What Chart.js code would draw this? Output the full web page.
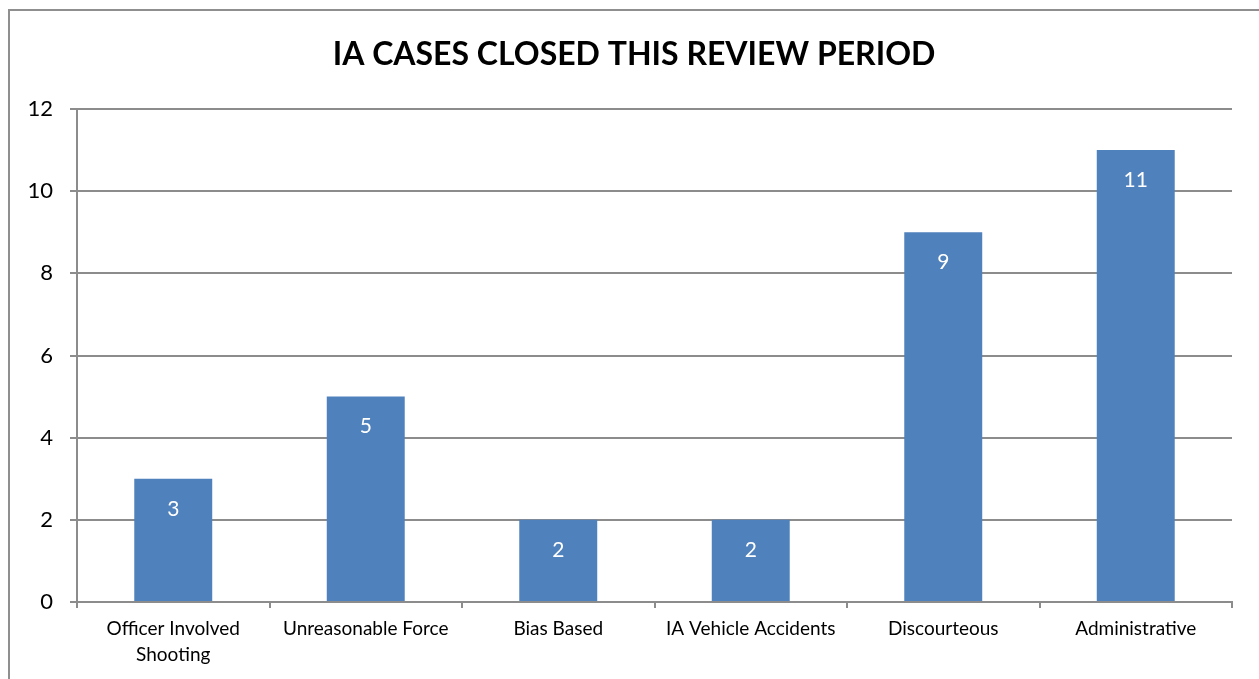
<!DOCTYPE html>
<html>
<head>
<meta charset="utf-8">
<script src="https://cdn.jsdelivr.net/npm/chart.js@4"></script>
<style>
  html, body { margin: 0; padding: 0; background: #fff; }
  #wrap { position: relative; width: 1259px; height: 679px; }
</style>
</head>
<body>
<div id="wrap"><canvas id="chart" width="1259" height="679"></canvas></div>
<script>
const categories = [["Officer Involved", "Shooting"], "Unreasonable Force", "Bias Based", "IA Vehicle Accidents", "Discourteous", "Administrative"];
const caseCounts = [3, 5, 2, 2, 9, 11];
const yTicks = [0, 2, 4, 6, 8, 10, 12];
const chartTitle = "IA CASES CLOSED THIS REVIEW PERIOD";

const FONT = "Lato, 'Open Sans', sans-serif";
const GRID = "#8c8c8c";

// outer frame of the chart object (left and top edges only visible) + title
const framePlugin = {
  id: "frame",
  beforeDraw(chart) {
    const ctx = chart.ctx;
    ctx.save();
    ctx.strokeStyle = "#8f8f8f";
    ctx.lineWidth = 2;
    ctx.beginPath();
    ctx.moveTo(9, 679);
    ctx.lineTo(9, 10);
    ctx.lineTo(1259, 10);
    ctx.stroke();
    ctx.fillStyle = "#000";
    ctx.font = "bold 32px " + FONT;
    ctx.textAlign = "center";
    ctx.textBaseline = "middle";
    ctx.fillText(chartTitle, 634, 55);
    ctx.restore();
  }
};

// value labels inside top of each bar
const valueLabels = {
  id: "valueLabels",
  afterDatasetsDraw(chart) {
    const ctx = chart.ctx;
    const meta = chart.getDatasetMeta(0);
    ctx.save();
    ctx.fillStyle = "#ffffff";
    ctx.font = "21px " + FONT;
    ctx.textAlign = "center";
    ctx.textBaseline = "middle";
    meta.data.forEach((bar, i) => {
      ctx.fillText(String(caseCounts[i]), bar.x, bar.y + 30);
    });
    ctx.restore();
  }
};

new Chart(document.getElementById("chart"), {
  type: "bar",
  data: {
    labels: categories,
    datasets: [{
      data: caseCounts,
      backgroundColor: "#4F81BD",
      borderWidth: 0,
      categoryPercentage: 1,
      barPercentage: 0.405
    }]
  },
  options: {
    responsive: false,
    animation: false,
    layout: { padding: { left: 0, right: 27, top: 109, bottom: 0 } },
    plugins: {
      legend: { display: false },
      tooltip: { enabled: false },
      title: { display: false }
    },
    scales: {
      x: {
        grid: { display: true, drawOnChartArea: false, drawTicks: true, tickLength: 6, color: GRID, lineWidth: 2, offset: true },
        border: { color: GRID, width: 2 },
        ticks: { color: "#000", font: { family: FONT, size: 19, lineHeight: 1.37 }, padding: 8, maxRotation: 0, autoSkip: false },
        afterFit(scale) { scale.height = 77; }
      },
      y: {
        min: 0,
        max: 12,
        afterBuildTicks(scale) { scale.ticks = yTicks.map((v) => ({ value: v })); },
        grid: { color: GRID, lineWidth: 2, tickLength: 7 },
        border: { color: GRID, width: 2 },
        ticks: { color: "#000", font: { family: FONT, size: 22 }, padding: 17 },
        afterFit(scale) { scale.width = 77; }
      }
    }
  },
  plugins: [framePlugin, valueLabels]
});
</script>
</body>
</html>
